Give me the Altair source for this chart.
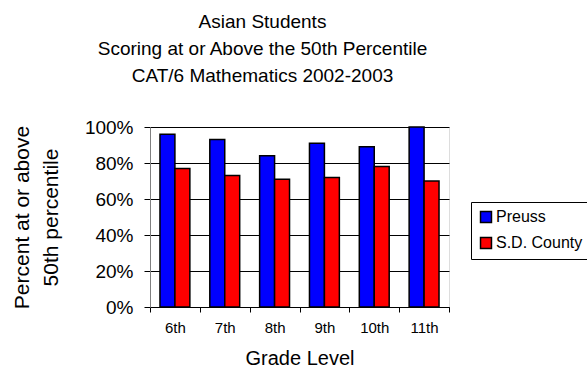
import altair as alt
import pandas as pd

grades = ["6th", "7th", "8th", "9th", "10th", "11th"]
preuss = [0.96, 0.93, 0.84, 0.91, 0.89, 1.00]
county = [0.77, 0.73, 0.71, 0.72, 0.78, 0.70]
series = ["Preuss", "S.D. County"]
colors = ["#0000FF", "#FF0000"]

rows = []
for g, p, c in zip(grades, preuss, county):
    rows.append({"grade": g, "series": series[0], "value": p})
    rows.append({"grade": g, "series": series[1], "value": c})
df = pd.DataFrame(rows)

FONT = "Liberation Sans"

chart = alt.Chart(df).mark_bar(stroke="black", strokeWidth=1.5).encode(
    x=alt.X("grade:N", sort=grades,
            scale=alt.Scale(paddingInner=0, paddingOuter=0),
            axis=alt.Axis(title="Grade Level", labelAngle=0, tickBand="extent",
                          labelFontSize=15, labelPadding=8, tickSize=5,
                          titleFontSize=20, titleFontWeight="normal", titlePadding=13,
                          domainColor="black", tickColor="black", grid=False,
                          labelFont=FONT, titleFont=FONT, labelColor="black", titleColor="black")),
    xOffset=alt.XOffset("series:N", sort=series,
                        scale=alt.Scale(paddingInner=0, paddingOuter=0.667)),
    y=alt.Y("value:Q", scale=alt.Scale(domain=[0, 1], nice=False),
            axis=alt.Axis(title=["Percent at or above", "50th percentile"],
                          format=".0%", values=[0, 0.2, 0.4, 0.6, 0.8, 1.0],
                          labelFontSize=19, labelPadding=11, tickSize=6,
                          titleFontSize=21, titleFontWeight="normal", titlePadding=23,
                          titleLineHeight=29,
                          grid=True, gridColor="black", gridOpacity=1, gridWidth=1,
                          domainColor="#808080", tickColor="black",
                          labelFont=FONT, titleFont=FONT, labelColor="black", titleColor="black")),
    color=alt.Color("series:N", sort=series,
                    scale=alt.Scale(domain=series, range=colors),
                    legend=alt.Legend(title=None, orient="none", legendX=321, legendY=75,
                                      symbolType="square", symbolSize=120,
                                      symbolStrokeColor="black", symbolStrokeWidth=1.5,
                                      labelFontSize=16, labelFont=FONT, labelColor="black",
                                      strokeColor="black", fillColor="white",
                                      padding=7, rowPadding=8, labelOffset=2)),
).properties(
    width=299, height=180,
    title=alt.TitleParams(
        text=["Asian Students", "Scoring at or Above the 50th Percentile",
              "CAT/6 Mathematics 2002-2003"],
        fontSize=19, font=FONT, fontWeight="normal", color="black",
        anchor="middle", frame="group", dx=-37, lineHeight=27, offset=32),
    autosize=alt.AutoSizeParams(type="none"),
    padding={"left": 150, "top": 127, "right": 138, "bottom": 63},
).configure_view(stroke=None).configure(background="white")

chart.save("out.html", embed_options={"renderer": "svg", "actions": False})
